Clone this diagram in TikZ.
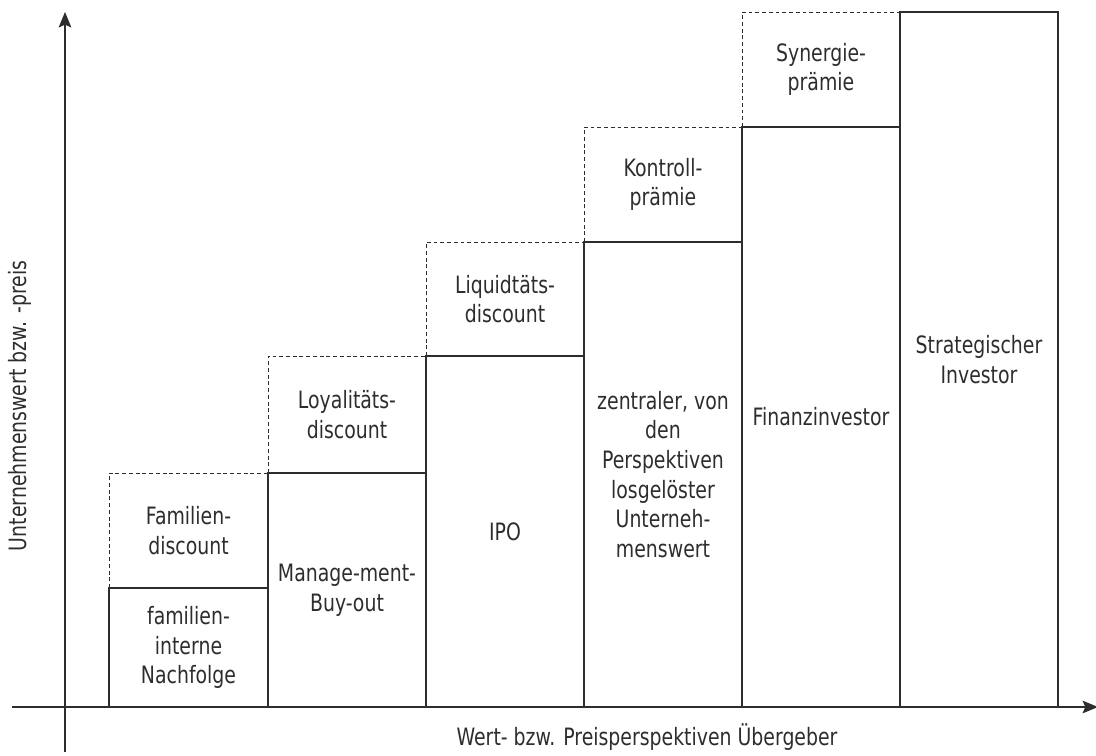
\documentclass[tikz,border=0pt]{standalone}
\usepackage{fontspec}
\setmainfont[FakeStretch=0.79]{DejaVu Sans}
\usetikzlibrary{arrows.meta}
\definecolor{linegray}{RGB}{45,45,45}

\begin{document}
\begin{tikzpicture}[x=0.025cm, y=-0.025cm, line width=0.8pt, draw=linegray,
    every node/.style={align=center, text=linegray, font=\fontsize{17pt}{21.1pt}\selectfont},
    disc/.style={dash pattern=on 2.8pt off 2pt, line width=0.7pt},
    axis/.style={-{Stealth[length=11pt, width=9pt, inset=2pt]}}]
    \useasboundingbox (0,0) rectangle (1096,755);

    % Ab- und Zuschlaege
    \draw[disc] (109,588) |- (268,473);
    \draw[disc] (268,473) |- (426,356);
    \draw[disc] (426,356) |- (584,242);
    \draw[disc] (584,242) |- (742,127);
    \draw[disc] (742,127) |- (900,12);

    % Perspektiven
    \draw (109,707) rectangle (268,588);
    \draw (268,707) rectangle (426,473);
    \draw (426,707) rectangle (584,356);
    \draw (584,707) rectangle (742,242);
    \draw (742,707) rectangle (900,127);
    \draw (900,707) rectangle (1058,12);

    \draw[axis] (65,752) -- (65,12);
    \draw[axis] (12,707) -- (1098,707);

    \node (fam)     at (188.5,647.5) {familien-\\interne\\Nachfolge};
    \node (famdisc) at (188.5,530.5) {Familien-\\discount};
    \node (mbo)     at (347,590)     {Manage-ment-\\Buy-out};
    \node (loydisc) at (347,414.5)   {Loyalitäts-\\discount};
    \node (ipo)     at (505,531.5)   {IPO};
    \node (liqdisc) at (505,299)     {Liquidtäts-\\discount};
    \node (zent)    at (663,474.5)   {zentraler, von\\den\\Perspektiven\\losgelöster\\Unterneh-\\menswert};
    \node (kontr)   at (663,184.5)   {Kontroll-\\prämie};
    \node (fin)     at (821,417)     {Finanzinvestor};
    \node (syn)     at (821,69.5)    {Synergie-\\prämie};
    \node (strat)   at (979,359.5)   {Strategischer\\Investor};

    \node (xlab) at (647,737) {Wert- bzw. Preisperspektiven Übergeber};
    \node[rotate=90] (ylab) at (20,406) {Unternehmenswert bzw. -preis};
  \end{tikzpicture}
\end{document}
